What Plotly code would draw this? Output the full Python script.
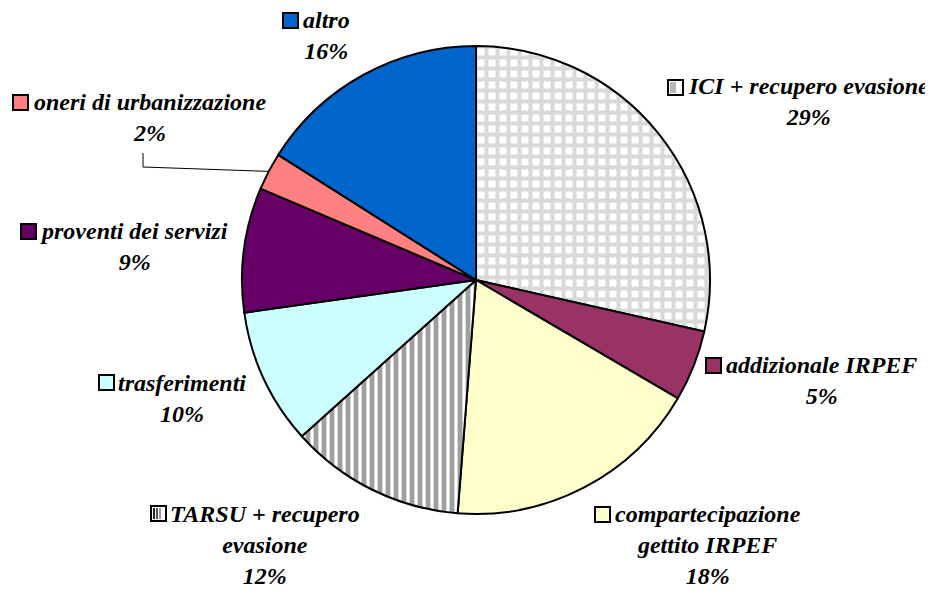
import math
import plotly.graph_objects as go

# the page shows the figure with an 8px body margin
OFF = 8
W, H = 933 - OFF, 591 - OFF

categories = ["ICI + recupero evasione", "addizionale IRPEF",
              "compartecipazione gettito IRPEF", "TARSU + recupero evasione",
              "trasferimenti", "proventi dei servizi",
              "oneri di urbanizzazione", "altro"]
values = [28.5, 4.9, 17.8, 12.1, 9.4, 8.6, 2.6, 16.0]
label_lines = [["ICI + recupero evasione"], ["addizionale IRPEF"],
               ["compartecipazione", "gettito IRPEF"],
               ["TARSU + recupero", "evasione"], ["trasferimenti"],
               ["proventi dei servizi"], ["oneri di urbanizzazione"], ["altro"]]
percent_labels = ["29%", "5%", "18%", "12%", "10%", "9%", "2%", "16%"]

colors = ["#ffffff", "#993366", "#ffffcc", "#ffffff", "#ccffff", "#660066", "#ff8080", "#0066cc"]
patterns = ["+", "", "", "|", "", "", "", ""]
pat_fg = ["#b3b3b3", "black", "black", "#404040", "black", "black", "black", "black"]
pat_size = [11, 8, 8, 8, 8, 8, 8, 8]
pat_sol = [0.6, 0.5, 0.5, 0.6, 0.5, 0.5, 0.5, 0.5]


def px(x):
    return (x - OFF) / W


def py(y):
    return 1 - (y - OFF) / H


# pie geometry (pixels in the screenshot)
CX, CY, R = 476, 280, 234

fig = go.Figure(go.Pie(
    labels=categories, values=values, sort=False, direction="clockwise", rotation=0,
    textinfo="none", hoverinfo="label+percent",
    marker=dict(colors=colors, line=dict(color="black", width=2),
                pattern=dict(shape=patterns, fgcolor=pat_fg, bgcolor=colors,
                             size=pat_size, solidity=pat_sol, fillmode="overlay")),
    domain=dict(x=[px(CX - R), px(CX + R)], y=[py(CY + R), py(CY - R)]),
    showlegend=False,
))

# label positions (pixel centers of text blocks) and key squares
label_pos = [(808, 101), (821, 380), (708, 545), (265, 545), (182, 398), (134, 247), (150, 118), (326, 35)]
key_pos = [(668, 80), (706, 358), (595, 507), (151, 506), (99, 375), (21, 224), (13, 95), (283, 13)]
KS = 15

font = dict(family="Liberation Serif, Times New Roman, serif", size=24, color="black")
shapes = []
annotations = []
for i, cat in enumerate(categories):
    text = "<br>".join(["<b><i>" + l + "</i></b>" for l in label_lines[i] + [percent_labels[i]]])
    x, y = label_pos[i]
    annotations.append(dict(x=px(x), y=py(y), xref="paper", yref="paper", text=text,
                            showarrow=False, xanchor="center", yanchor="middle",
                            align="center", font=font))
    kx, ky = key_pos[i]
    shapes.append(dict(type="rect", xref="paper", yref="paper", x0=px(kx), x1=px(kx + KS),
                       y0=py(ky + KS), y1=py(ky),
                       fillcolor=colors[i], line=dict(color="black", width=2)))
    if patterns[i] == "+":
        shapes.append(dict(type="rect", xref="paper", yref="paper", x0=px(kx + 2), x1=px(kx + 8),
                           y0=py(ky + KS - 2), y1=py(ky + 2),
                           fillcolor="#b8b8b8", line=dict(width=0)))
    elif patterns[i] == "|":
        for dx, c in [(3, "#222222"), (6, "#555555"), (9, "#999999")]:
            shapes.append(dict(type="line", xref="paper", yref="paper", x0=px(kx + dx), x1=px(kx + dx),
                               y0=py(ky + KS - 2), y1=py(ky + 2),
                               line=dict(color=c, width=2)))

# leader line for "oneri di urbanizzazione" to the slice mid-angle
idx = categories.index("oneri di urbanizzazione")
total = sum(values)
mid = (sum(values[:idx]) + values[idx] / 2) / total * 2 * math.pi
ex = CX + R * math.sin(mid)
ey = CY - R * math.cos(mid)
shapes.append(dict(type="path", xref="paper", yref="paper",
                   path=f"M {px(143)},{py(153)} L {px(143)},{py(167)} L {px(ex)},{py(ey)}",
                   line=dict(color="black", width=1)))

fig.update_layout(width=W, height=H, margin=dict(l=0, r=0, t=0, b=0),
                  paper_bgcolor="white", plot_bgcolor="white",
                  shapes=shapes, annotations=annotations)
fig.write_html("out.html")
